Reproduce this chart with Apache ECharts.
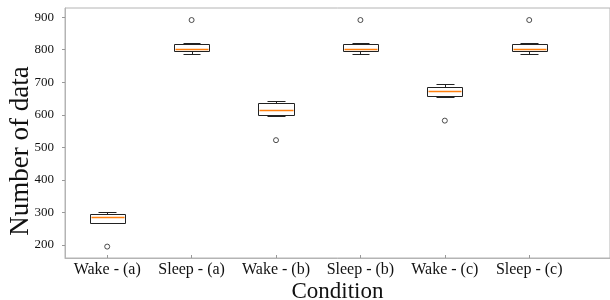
<!DOCTYPE html>
<html>
<head>
<meta charset="utf-8">
<script src="https://cdn.jsdelivr.net/npm/echarts@6/dist/echarts.min.js"></script>
<style>
  html, body { margin: 0; padding: 0; background: #fff; }
  #chart { width: 610px; height: 300px; }
</style>
</head>
<body>
<div id="chart"></div>
<script>
const categories = ["Wake - (a)", "Sleep - (a)", "Wake - (b)", "Sleep - (b)", "Wake - (c)", "Sleep - (c)"];
const whiskerLow = [266, 787, 597, 787, 655, 788];
const q1 = [268, 797, 598, 797, 658, 797];
const median = [285, 802, 614, 802, 672, 802];
const q3 = [295, 818, 635, 817, 684, 817];
const whiskerHigh = [302, 821, 642, 820, 693, 820];
const outliers = [[0, 195], [1, 891], [2, 522], [3, 891], [4, 582], [5, 891]];
const yTicks = [200, 300, 400, 500, 600, 700, 800, 900];

const boxData = categories.map((c, i) => [i, whiskerLow[i], q1[i], median[i], q3[i], whiskerHigh[i]]);
const font = "Liberation Serif";
const px = v => Math.round(v) + 0.5;

function renderBox(params, api) {
  const i = api.value(0);
  const unit = api.size([1, 0])[0];
  const half = unit * 0.415 / 2;
  const capHalf = half / 2;
  const cx = api.coord([i, 0])[0];
  const y = k => px(api.coord([i, api.value(k)])[1]);
  const xl = px(cx - half), xr = px(cx + half);
  const xc = px(cx);
  const line = "#222";
  return {
    type: "group",
    children: [
      { type: "rect", shape: { x: xl, y: y(4), width: xr - xl, height: y(2) - y(4) },
        style: { fill: "none", stroke: line, lineWidth: 1 } },
      { type: "line", shape: { x1: xc, y1: y(4), x2: xc, y2: y(5) }, style: { stroke: line, lineWidth: 1 } },
      { type: "line", shape: { x1: xc, y1: y(2), x2: xc, y2: y(1) }, style: { stroke: line, lineWidth: 1 } },
      { type: "line", shape: { x1: px(cx - capHalf), y1: y(5), x2: px(cx + capHalf), y2: y(5) }, style: { stroke: line, lineWidth: 1 } },
      { type: "line", shape: { x1: px(cx - capHalf), y1: y(1), x2: px(cx + capHalf), y2: y(1) }, style: { stroke: line, lineWidth: 1 } },
      { type: "line", shape: { x1: xl + 1, y1: y(3), x2: xr - 1, y2: y(3) }, style: { stroke: "#ff7f0e", lineWidth: 1.4 }, z2: 10 }
    ]
  };
}

const option = {
  animation: false,
  backgroundColor: "#fff",
  grid: {
    left: 65,
    right: 0,
    top: 8,
    bottom: 42,
    outerBoundsMode: "none",
    containLabel: false,
    show: true,
    borderColor: "#b4b4b4",
    borderWidth: 1
  },
  xAxis: {
    type: "value",
    min: -0.5,
    max: 5.957,
    name: "Condition",
    nameLocation: "middle",
    nameGap: 22,
    nameMoveOverlap: false,
    nameTextStyle: { fontFamily: font, fontSize: 23, color: "#111" },
    axisLine: { onZero: false, lineStyle: { color: "#b4b4b4" } },
    axisTick: { customValues: [0, 1, 2, 3, 4, 5], inside: true, length: 3, lineStyle: { color: "#999" } },
    axisLabel: {
      customValues: [0, 1, 2, 3, 4, 5],
      formatter: v => categories[v],
      fontFamily: font,
      fontSize: 16,
      color: "#111",
      margin: 4
    },
    splitLine: { show: false }
  },
  yAxis: {
    type: "value",
    min: 160,
    max: 928,
    name: "Number of data",
    nameLocation: "middle",
    nameGap: 31,
    nameMoveOverlap: false,
    nameTextStyle: { fontFamily: font, fontSize: 27, color: "#111", padding: [0, 36, 0, 0] },
    axisLine: { show: true, onZero: false, lineStyle: { color: "#b4b4b4" } },
    axisTick: { show: true, customValues: yTicks, length: 3, lineStyle: { color: "#999" } },
    axisLabel: { customValues: yTicks, fontFamily: font, fontSize: 13, color: "#111", margin: 11 },
    splitLine: { show: false }
  },
  series: [
    {
      type: "custom",
      renderItem: renderBox,
      data: boxData,
      encode: { x: 0, y: [1, 2, 3, 4, 5] },
      z: 2
    },
    {
      type: "scatter",
      data: outliers,
      symbol: "circle",
      symbolSize: 5,
      itemStyle: { color: "#fff", borderColor: "#222", borderWidth: 1 },
      z: 3
    }
  ]
};

const myChart = echarts.init(document.getElementById("chart"));
myChart.setOption(option);
</script>
</body>
</html>
